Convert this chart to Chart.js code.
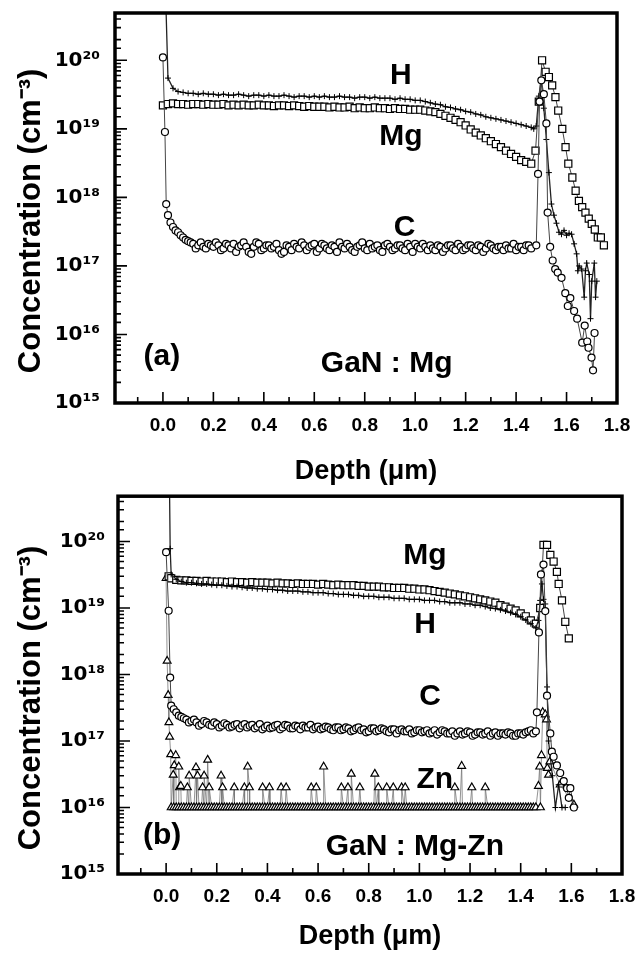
<!DOCTYPE html>
<html>
<head>
<meta charset="utf-8">
<script src="https://cdn.jsdelivr.net/npm/chart.js@4.4.1/dist/chart.umd.min.js"></script>
<style>
  html, body { margin: 0; padding: 0; background: #fff; }
  body { width: 638px; height: 958px; position: relative; overflow: hidden; }
  canvas { position: absolute; left: 0; }
  #chartA { top: 0; }
  #chartB { top: 490px; }
</style>
</head>
<body>
<canvas id="chartA" width="638" height="490"></canvas>
<canvas id="chartB" width="638" height="468"></canvas>
<script>
// depth grids (um) for the flat part of the profiles
const bulkDepth = [
  0.02, 0.04, 0.06, 0.08, 0.10, 0.12, 0.14, 0.16, 0.18, 0.20,
  0.22, 0.24, 0.26, 0.28, 0.30, 0.32, 0.34, 0.36, 0.38, 0.40,
  0.42, 0.44, 0.46, 0.48, 0.50, 0.52, 0.54, 0.56, 0.58, 0.60,
  0.62, 0.64, 0.66, 0.68, 0.70, 0.72, 0.74, 0.76, 0.78, 0.80,
  0.82, 0.84, 0.86, 0.88, 0.90, 0.92, 0.94, 0.96, 0.98, 1.00,
  1.02, 1.04, 1.06, 1.08, 1.10, 1.12, 1.14, 1.16, 1.18, 1.20,
  1.22, 1.24, 1.26, 1.28, 1.30, 1.32, 1.34, 1.36, 1.38, 1.40,
  1.42, 1.44, 1.46
];
// in-between depths, used by the denser C and Zn records
const bulkDepthOdd = [
  0.03, 0.05, 0.07, 0.09, 0.11, 0.13, 0.15, 0.17, 0.19, 0.21,
  0.23, 0.25, 0.27, 0.29, 0.31, 0.33, 0.35, 0.37, 0.39, 0.41,
  0.43, 0.45, 0.47, 0.49, 0.51, 0.53, 0.55, 0.57, 0.59, 0.61,
  0.63, 0.65, 0.67, 0.69, 0.71, 0.73, 0.75, 0.77, 0.79, 0.81,
  0.83, 0.85, 0.87, 0.89, 0.91, 0.93, 0.95, 0.97, 0.99, 1.01,
  1.03, 1.05, 1.07, 1.09, 1.11, 1.13, 1.15, 1.17, 1.19, 1.21,
  1.23, 1.25, 1.27, 1.29, 1.31, 1.33, 1.35, 1.37, 1.39, 1.41,
  1.43, 1.45
];

// ---- (a) GaN : Mg ----
const hHeadDepthA = [0.008];
const hHeadA = [2e21];
const hBulkA = [
  5.5e19, 3.9e19, 3.5e19, 3.4e19, 3.3e19, 3.3e19, 3.2e19, 3.3e19, 3.2e19, 3.2e19,
  3.1e19, 3.2e19, 3.1e19, 3.1e19, 3.2e19, 3.1e19, 3.0e19, 3.1e19, 3.1e19, 3.0e19,
  3.1e19, 3.0e19, 3.0e19, 3.1e19, 3.0e19, 2.9e19, 3.0e19, 3.0e19, 2.9e19, 3.0e19,
  2.9e19, 3.0e19, 2.9e19, 2.9e19, 3.0e19, 2.9e19, 2.9e19, 2.8e19, 2.9e19, 2.9e19,
  2.8e19, 2.9e19, 2.8e19, 2.8e19, 2.8e19, 2.7e19, 2.8e19, 2.7e19, 2.7e19, 2.6e19,
  2.6e19, 2.5e19, 2.4e19, 2.3e19, 2.25e19, 2.1e19, 2.05e19, 1.95e19, 1.9e19, 1.8e19,
  1.75e19, 1.65e19, 1.6e19, 1.5e19, 1.45e19, 1.4e19, 1.35e19, 1.3e19, 1.25e19, 1.2e19,
  1.15e19, 1.1e19, 1.05e19
];
const hTailDepthA = [1.47, 1.48, 1.49, 1.50, 1.51, 1.52, 1.53, 1.54, 1.55, 1.56,
  1.57, 1.58, 1.59, 1.60, 1.61, 1.62, 1.63, 1.64, 1.645, 1.65,
  1.66, 1.67, 1.675, 1.68, 1.69, 1.695, 1.70, 1.71, 1.715, 1.72];
const hTailA = [1.0e19, 1.1e19, 3.0e19, 5.0e19, 2.0e19, 7.0e18, 2.3e18, 8.0e17, 5.5e17, 4.2e17,
  3.1e17, 2.9e17, 3.3e17, 2.8e17, 3.0e17, 2.9e17, 2.1e17, 1.5e17, 8.5e16, 1.0e17,
  9.0e16, 3.5e16, 8.5e16, 1.1e17, 7.5e16, 1.7e16, 6.0e16, 1.1e17, 3.5e16, 6.0e16];

const mgHeadDepthA = [0.0];
const mgHeadA = [2.2e19];
const mgBulkA = [
  2.3e19, 2.35e19, 2.3e19, 2.3e19, 2.25e19, 2.3e19, 2.3e19, 2.25e19, 2.3e19, 2.25e19,
  2.25e19, 2.3e19, 2.2e19, 2.25e19, 2.2e19, 2.25e19, 2.2e19, 2.2e19, 2.25e19, 2.2e19,
  2.2e19, 2.15e19, 2.2e19, 2.2e19, 2.15e19, 2.2e19, 2.15e19, 2.1e19, 2.15e19, 2.1e19,
  2.1e19, 2.1e19, 2.05e19, 2.1e19, 2.05e19, 2.05e19, 2.1e19, 2.0e19, 2.05e19, 2.0e19,
  2.0e19, 2.05e19, 2.0e19, 2.0e19, 1.95e19, 2.0e19, 1.95e19, 1.95e19, 1.9e19, 1.9e19,
  1.9e19, 1.85e19, 1.8e19, 1.75e19, 1.65e19, 1.55e19, 1.45e19, 1.35e19, 1.25e19, 1.12e19,
  9.8e18, 8.8e18, 8.0e18, 7.3e18, 6.6e18, 6.0e18, 5.4e18, 4.8e18, 4.3e18, 3.9e18,
  3.5e18, 3.3e18, 3.1e18
];
const mgTailDepthA = [1.477, 1.490, 1.503, 1.517, 1.530, 1.543, 1.556, 1.567, 1.583, 1.596,
  1.607, 1.623, 1.636, 1.649, 1.662, 1.675, 1.688, 1.700, 1.712, 1.724, 1.736, 1.748];
const mgTailA = [4.8e18, 2.5e19, 1.0e20, 6.8e19, 5.7e19, 4.3e19, 2.9e19, 1.85e19, 1.0e19, 5.4e18,
  3.1e18, 1.95e18, 1.25e18, 8.9e17, 7.2e17, 6.0e17, 4.9e17, 4.1e17, 3.4e17, 2.6e17, 2.6e17, 2.0e17];

const cHeadDepthA = [0.000, 0.008, 0.013];
const cHeadA = [1.1e20, 9.0e18, 8.0e17];
const cBulkA = [
  5.5e17, 3.7e17, 3.1e17, 2.6e17, 2.3e17, 2.1e17, 2.0e17, 1.9e17, 2.1e17, 1.9e17,
  2.0e17, 1.8e17, 2.0e17, 2.1e17, 1.9e17, 2.2e17, 1.6e17, 1.9e17, 2.1e17, 1.8e17,
  2.0e17, 1.9e17, 1.7e17, 1.6e17, 1.9e17, 2.1e17, 1.8e17, 2.0e17, 1.9e17, 2.1e17,
  1.8e17, 2.0e17, 1.7e17, 1.9e17, 2.2e17, 1.8e17, 1.9e17, 1.6e17, 2.0e17, 1.8e17,
  2.1e17, 1.9e17, 1.7e17, 2.0e17, 1.9e17, 1.8e17, 2.0e17, 1.7e17, 1.9e17, 2.1e17,
  1.8e17, 1.9e17, 2.0e17, 1.7e17, 1.9e17, 1.8e17, 2.0e17, 1.7e17, 1.9e17, 1.8e17,
  2.0e17, 1.7e17, 1.9e17, 1.8e17, 2.0e17, 1.7e17, 1.9e17, 2.0e17, 1.8e17, 1.7e17,
  1.9e17, 2.0e17, 1.8e17
];
const cBulkOddA = [
  4.3e17, 3.3e17, 2.8e17, 2.4e17, 2.2e17, 1.8e17, 2.2e17, 1.8e17, 2.0e17, 2.2e17,
  1.7e17, 2.1e17, 1.8e17, 1.6e17, 2.0e17, 1.9e17, 1.5e17, 2.2e17, 1.7e17, 2.0e17,
  1.8e17, 2.1e17, 1.5e17, 2.0e17, 1.7e17, 1.9e17, 2.2e17, 1.7e17, 2.0e17, 1.6e17,
  2.1e17, 1.8e17, 2.0e17, 1.6e17, 1.9e17, 2.1e17, 1.7e17, 1.9e17, 2.2e17, 1.7e17,
  1.8e17, 2.0e17, 1.6e17, 2.1e17, 1.7e17, 2.0e17, 1.8e17, 2.1e17, 1.6e17, 1.9e17,
  2.1e17, 1.7e17, 1.8e17, 2.0e17, 1.6e17, 2.0e17, 1.8e17, 2.1e17, 1.7e17, 2.0e17,
  1.8e17, 2.0e17, 1.6e17, 2.1e17, 1.8e17, 1.9e17, 1.7e17, 1.8e17, 2.1e17, 1.9e17,
  1.7e17, 2.0e17
];
const cTailDepthA = [1.480, 1.487, 1.493, 1.500, 1.510, 1.520, 1.525, 1.535, 1.545, 1.555,
  1.565, 1.580, 1.595, 1.605, 1.615, 1.630, 1.642, 1.662, 1.672, 1.682,
  1.687, 1.699, 1.705, 1.711];
const cTailA = [2.0e17, 2.2e18, 2.5e19, 5.1e19, 3.2e19, 1.2e19, 6.0e17, 1.9e17, 1.2e17, 9.0e16,
  8.0e16, 6.7e16, 4.0e16, 2.6e16, 3.4e16, 2.2e16, 1.7e16, 7.6e15, 1.35e16, 7.9e15,
  6.4e15, 4.6e15, 3.0e15, 1.05e16];

// ---- (b) GaN : Mg-Zn ----
const hHeadDepthB = [0.012, 0.016];
const hHeadB = [2e21, 7.8e19];
const hBulkB = [
  3.2e19, 2.7e19, 2.5e19, 2.4e19, 2.4e19, 2.35e19, 2.3e19, 2.3e19, 2.25e19, 2.2e19,
  2.2e19, 2.15e19, 2.1e19, 2.1e19, 2.05e19, 2.0e19, 2.0e19, 1.95e19, 1.95e19, 1.9e19,
  1.9e19, 1.85e19, 1.85e19, 1.8e19, 1.8e19, 1.8e19, 1.75e19, 1.75e19, 1.7e19, 1.7e19,
  1.7e19, 1.65e19, 1.65e19, 1.6e19, 1.6e19, 1.6e19, 1.55e19, 1.55e19, 1.5e19, 1.5e19,
  1.5e19, 1.45e19, 1.45e19, 1.45e19, 1.4e19, 1.4e19, 1.4e19, 1.35e19, 1.35e19, 1.35e19,
  1.3e19, 1.3e19, 1.3e19, 1.25e19, 1.25e19, 1.2e19, 1.2e19, 1.2e19, 1.15e19, 1.15e19,
  1.1e19, 1.1e19, 1.05e19, 1.0e19, 9.8e18, 9.4e18, 9.0e18, 8.5e18, 8.0e18, 7.4e18,
  6.6e18, 5.8e18, 5.0e18
];
const hTailDepthB = [1.470, 1.477, 1.484, 1.490, 1.497, 1.504, 1.510, 1.525, 1.537, 1.550, 1.563, 1.576];
const hTailB = [6.5e18, 1.3e19, 2.3e19, 1.35e19, 1.15e19, 6.5e17, 1.0e17, 3.0e16, 1.0e16, 2.2e16, 1.0e16, 1.0e16];

const mgHeadDepthB = [0.010];
const mgHeadB = [3.0e19];
const mgBulkB = [
  2.8e19, 2.65e19, 2.6e19, 2.6e19, 2.55e19, 2.55e19, 2.5e19, 2.55e19, 2.5e19, 2.5e19,
  2.5e19, 2.45e19, 2.5e19, 2.45e19, 2.45e19, 2.4e19, 2.45e19, 2.4e19, 2.4e19, 2.4e19,
  2.35e19, 2.4e19, 2.35e19, 2.35e19, 2.3e19, 2.35e19, 2.3e19, 2.3e19, 2.3e19, 2.25e19,
  2.3e19, 2.25e19, 2.2e19, 2.25e19, 2.2e19, 2.2e19, 2.2e19, 2.15e19, 2.15e19, 2.1e19,
  2.1e19, 2.1e19, 2.05e19, 2.05e19, 2.0e19, 2.0e19, 2.0e19, 1.95e19, 1.95e19, 1.9e19,
  1.9e19, 1.85e19, 1.8e19, 1.75e19, 1.7e19, 1.65e19, 1.6e19, 1.55e19, 1.5e19, 1.45e19,
  1.4e19, 1.35e19, 1.3e19, 1.25e19, 1.2e19, 1.1e19, 1.05e19, 9.8e18, 9.2e18, 8.3e18,
  7.5e18, 6.5e18, 5.8e18
];
const mgTailDepthB = [1.477, 1.490, 1.504, 1.517, 1.530, 1.543, 1.550, 1.563, 1.576, 1.590];
const mgTailB = [1.0e19, 8.9e19, 8.9e19, 6.3e19, 5.0e19, 3.5e19, 2.3e19, 1.3e19, 6.2e18, 3.5e18];

const cHeadDepthB = [0.000, 0.010, 0.016];
const cHeadB = [6.9e19, 9.1e18, 9.0e17];
const cBulkB = [
  3.4e17, 2.7e17, 2.3e17, 2.1e17, 2.0e17, 1.9e17, 1.8e17, 1.9e17, 1.7e17, 1.8e17,
  1.7e17, 1.75e17, 1.65e17, 1.8e17, 1.7e17, 1.6e17, 1.75e17, 1.65e17, 1.5e17, 1.7e17,
  1.6e17, 1.75e17, 1.6e17, 1.7e17, 1.55e17, 1.65e17, 1.7e17, 1.6e17, 1.5e17, 1.65e17,
  1.55e17, 1.6e17, 1.45e17, 1.6e17, 1.5e17, 1.55e17, 1.45e17, 1.6e17, 1.5e17, 1.4e17,
  1.55e17, 1.45e17, 1.5e17, 1.35e17, 1.5e17, 1.45e17, 1.4e17, 1.5e17, 1.35e17, 1.45e17,
  1.4e17, 1.3e17, 1.45e17, 1.35e17, 1.4e17, 1.3e17, 1.2e17, 1.4e17, 1.3e17, 1.35e17,
  1.25e17, 1.35e17, 1.3e17, 1.2e17, 1.35e17, 1.3e17, 1.25e17, 1.3e17, 1.2e17, 1.3e17,
  1.35e17, 1.45e17, 1.4e17
];
const cBulkOddB = [
  3.0e17, 2.4e17, 2.2e17, 1.9e17, 2.1e17, 1.7e17, 2.0e17, 1.75e17, 1.9e17, 1.6e17,
  1.85e17, 1.6e17, 1.75e17, 1.55e17, 1.8e17, 1.7e17, 1.55e17, 1.8e17, 1.6e17, 1.55e17,
  1.7e17, 1.5e17, 1.75e17, 1.55e17, 1.7e17, 1.5e17, 1.6e17, 1.75e17, 1.6e17, 1.5e17,
  1.65e17, 1.5e17, 1.6e17, 1.45e17, 1.6e17, 1.4e17, 1.55e17, 1.45e17, 1.35e17, 1.55e17,
  1.4e17, 1.55e17, 1.4e17, 1.5e17, 1.3e17, 1.5e17, 1.4e17, 1.3e17, 1.45e17, 1.35e17,
  1.45e17, 1.35e17, 1.25e17, 1.45e17, 1.3e17, 1.4e17, 1.3e17, 1.25e17, 1.4e17, 1.2e17,
  1.35e17, 1.25e17, 1.4e17, 1.3e17, 1.2e17, 1.3e17, 1.35e17, 1.2e17, 1.3e17, 1.25e17,
  1.4e17, 1.3e17
];
const cTailDepthB = [1.464, 1.472, 1.480, 1.490, 1.497, 1.504, 1.517, 1.523, 1.530, 1.543,
  1.556, 1.570, 1.583, 1.590, 1.596, 1.610];
const cTailB = [2.7e17, 4.3e18, 3.2e19, 4.5e19, 9.0e18, 4.8e17, 1.3e17, 6.9e16, 5.8e16, 4.3e16,
  3.3e16, 2.5e16, 1.95e16, 1.4e16, 1.95e16, 1.0e16];

// Zn sits at the 1e16 detection floor, with scattered counts above it
const znBulkB = [
  1e16, 1e16, 1e16, 1e16, 1e16, 1e16, 1e16, 1e16, 1e16, 1e16,
  1e16, 1e16, 1e16, 1e16, 1e16, 1e16, 1e16, 1e16, 1e16, 1e16,
  1e16, 1e16, 1e16, 1e16, 1e16, 1e16, 1e16, 1e16, 1e16, 1e16,
  1e16, 1e16, 1e16, 1e16, 1e16, 1e16, 1e16, 1e16, 1e16, 1e16,
  1e16, 1e16, 1e16, 1e16, 1e16, 1e16, 1e16, 1e16, 1e16, 1e16,
  1e16, 1e16, 1e16, 1e16, 1e16, 1e16, 1e16, 1e16, 1e16, 1e16,
  1e16, 1e16, 1e16, 1e16, 1e16, 1e16, 1e16, 1e16, 1e16, 1e16,
  1e16, 1e16, 1e16
];
const znBulkOddB = [
  1e16, 1e16, 1e16, 1e16, 1e16, 1e16, 1e16, 1e16, 1e16, 1e16,
  1e16, 1e16, 1e16, 1e16, 1e16, 1e16, 1e16, 1e16, 1e16, 1e16,
  1e16, 1e16, 1e16, 1e16, 1e16, 1e16, 1e16, 1e16, 1e16, 1e16,
  1e16, 1e16, 1e16, 1e16, 1e16, 1e16, 1e16, 1e16, 1e16, 1e16,
  1e16, 1e16, 1e16, 1e16, 1e16, 1e16, 1e16, 1e16, 1e16, 1e16,
  1e16, 1e16, 1e16, 1e16, 1e16, 1e16, 1e16, 1e16, 1e16, 1e16,
  1e16, 1e16, 1e16, 1e16, 1e16, 1e16, 1e16, 1e16, 1e16, 1e16,
  1e16, 1e16
];
const znExtraDepthB = [
  0.000, 0.004, 0.008, 0.011, 0.014, 0.018, 0.028, 0.032, 0.038, 0.050,
  0.053, 0.058, 0.084, 0.091, 0.118, 0.124, 0.144, 0.150, 0.164, 0.170,
  0.217, 0.223, 0.269, 0.309, 0.322, 0.329, 0.381, 0.408, 0.454, 0.474,
  0.573, 0.593, 0.622, 0.692, 0.718, 0.731, 0.765, 0.824, 0.838, 0.871,
  0.897, 0.930, 0.944, 1.140, 1.167, 1.207, 1.260, 1.470, 1.475, 1.478,
  1.482, 1.487, 1.497, 1.502, 1.505, 1.510, 1.515, 1.556, 1.610
];
const znExtraB = [
  2.8e19, 1.6e18, 4.9e17, 1.9e17, 1.15e17, 6.3e16, 3.1e16, 4.3e16, 6.1e16, 4.1e16,
  2.0e16, 2.1e16, 2.0e16, 3.0e16, 4.0e16, 3.0e16, 2.0e16, 3.0e16, 5.2e16, 2.0e16,
  3.0e16, 2.0e16, 2.0e16, 2.0e16, 4.1e16, 2.0e16, 2.0e16, 2.0e16, 2.0e16, 2.0e16,
  2.0e16, 2.0e16, 4.1e16, 2.0e16, 2.0e16, 3.2e16, 2.0e16, 3.2e16, 2.0e16, 2.0e16,
  2.0e16, 2.0e16, 2.0e16, 2.0e16, 4.2e16, 2.0e16, 2.0e16, 2.1e16, 4.1e16, 1.0e16,
  6.1e16, 2.7e17, 2.5e17, 2.1e17, 3.9e16, 3.1e16, 4.9e16, 2.2e16, 1.1e16
];

// axis ticks
const xTicks = [-0.1, 0.0, 0.1, 0.2, 0.3, 0.4, 0.5, 0.6, 0.7, 0.8, 0.9, 1.0, 1.1, 1.2, 1.3, 1.4, 1.5, 1.6, 1.7, 1.8];
const xLabels = [0.0, 0.2, 0.4, 0.6, 0.8, 1.0, 1.2, 1.4, 1.6, 1.8];

// in-plot labels (depth, concentration)
const labelsA = [
  { text: 'H', x: 0.943, y: 5.9e19 },
  { text: 'Mg', x: 0.943, y: 7.8e18 },
  { text: 'C', x: 0.958, y: 3.6e17 },
  { text: 'GaN : Mg', x: 0.887, y: 3.8e15 },
  { text: '(a)', x: -0.004, y: 4.7e15 }
];
const labelsB = [
  { text: 'Mg', x: 1.022, y: 6.2e19 },
  { text: 'H', x: 1.022, y: 5.6e18 },
  { text: 'C', x: 1.042, y: 4.6e17 },
  { text: 'Zn', x: 1.061, y: 2.6e16 },
  { text: 'GaN : Mg-Zn', x: 0.982, y: 2.6e15 },
  { text: '(b)', x: -0.016, y: 3.8e15 }
];

const FONT = "'Liberation Sans', Arial, Helvetica, sans-serif";
Chart.defaults.font.family = FONT;
Chart.defaults.color = '#000';

const supDigits = { '0': '⁰', '1': '¹', '2': '²', '3': '³', '4': '⁴', '5': '⁵', '6': '⁶', '7': '⁷', '8': '⁸', '9': '⁹' };
const toSup = n => String(n).split('').map(c => supDigits[c]).join('');
const isDecade = v => { const lg = Math.log10(v); return Math.abs(lg - Math.round(lg)) < 1e-9; };

function profile(depths, values) {
  return depths.map((d, i) => ({ x: d, y: values[i] }));
}
const byDepth = (p, q) => p.x - q.x;

const styles = {
  H: { pointStyle: 'cross', pointRadius: 3, borderWidth: 1.3, borderColor: '#222', pointBorderWidth: 1 },
  Mg: { pointStyle: 'rect', pointRadius: 5, borderWidth: 1, borderColor: '#444' },
  C: { pointStyle: 'circle', pointRadius: 3.5, borderWidth: 1, borderColor: '#444' },
  Zn: { pointStyle: 'triangle', pointRadius: 4.5, borderWidth: 0.8, borderColor: '#777' }
};

function dataset(label, points, style) {
  return Object.assign({
    label, data: points, showLine: true, fill: false, tension: 0,
    pointBackgroundColor: '#fff', pointBorderColor: '#000', pointBorderWidth: 1.2
  }, style);
}

// thick frame, inward ticks and the in-plot labels
const framePlugin = {
  id: 'frame',
  afterDatasetsDraw(chart, args, opts) {
    const { ctx, chartArea: a, scales: { x, y } } = chart;
    ctx.save();
    ctx.strokeStyle = '#000';
    ctx.lineWidth = 1.6;
    ctx.beginPath();
    y.ticks.forEach(t => {
      const p = y.getPixelForValue(t.value);
      if (p < a.top || p > a.bottom) return;
      const len = isDecade(t.value) ? 12 : 6;
      ctx.moveTo(a.left, p);
      ctx.lineTo(a.left + len, p);
    });
    x.ticks.forEach(t => {
      const p = x.getPixelForValue(t.value);
      const len = t.label ? 11 : 6;
      ctx.moveTo(p, a.bottom);
      ctx.lineTo(p, a.bottom - len);
    });
    ctx.stroke();
    ctx.lineWidth = 3.5;
    ctx.strokeRect(a.left, a.top, a.right - a.left, a.bottom - a.top);
    ctx.fillStyle = '#000';
    ctx.font = 'bold 30px ' + FONT;
    ctx.textAlign = 'center';
    ctx.textBaseline = 'middle';
    (opts.labels || []).forEach(l => {
      ctx.fillText(l.text, x.getPixelForValue(l.x), y.getPixelForValue(l.y));
    });
    ctx.restore();
  }
};

function makeChart(id, datasets, labels, box) {
  return new Chart(document.getElementById(id), {
    type: 'line',
    data: { datasets },
    options: {
      responsive: false,
      animation: false,
      devicePixelRatio: 1,
      layout: { padding: { top: box.top, right: box.right, left: 0, bottom: 0 } },
      plugins: {
        legend: { display: false },
        tooltip: { enabled: false },
        frame: { labels }
      },
      scales: {
        x: {
          type: 'linear', min: -0.19, max: 1.8,
          grid: { display: false, drawTicks: false }, border: { display: false },
          afterBuildTicks: s => { s.ticks = xTicks.map(v => ({ value: v })); },
          afterFit: s => { s.height = box.xHeight; s.paddingLeft = 0; s.paddingRight = 0; },
          ticks: {
            autoSkip: false, maxRotation: 0, padding: 11,
            font: { size: 19, weight: 'bold' },
            callback: v => xLabels.some(l => Math.abs(l - v) < 1e-9) ? v.toFixed(1) : ''
          },
          title: {
            display: true, text: 'Depth (μm)',
            font: { size: 27, weight: 'bold' },
            padding: { top: 0, bottom: box.titleGap }
          }
        },
        y: {
          type: 'logarithmic', min: 1e15, max: box.yMax,
          grid: { display: false, drawTicks: false }, border: { display: false },
          afterFit: s => { s.width = box.yWidth; s.paddingTop = 0; s.paddingBottom = 0; },
          ticks: {
            autoSkip: false, padding: box.yPad,
            font: { family: "'DejaVu Sans', sans-serif", size: 20, weight: 'bold' },
            callback: v => isDecade(v) ? '10' + toSup(Math.round(Math.log10(v))) : ''
          },
          title: {
            display: true, text: 'Concentration (cm⁻³)   ',
            font: { size: 31, weight: 'bold' },
            padding: { top: 13, bottom: 0 }
          }
        }
      }
    },
    plugins: [framePlugin]
  });
}

const datasetsA = [
  dataset('C', profile(cHeadDepthA, cHeadA).concat(profile(bulkDepth, cBulkA), profile(bulkDepthOdd, cBulkOddA), profile(cTailDepthA, cTailA)).sort(byDepth), styles.C),
  dataset('Mg', profile(mgHeadDepthA, mgHeadA).concat(profile(bulkDepth, mgBulkA), profile(mgTailDepthA, mgTailA)), styles.Mg),
  dataset('H', profile(hHeadDepthA, hHeadA).concat(profile(bulkDepth, hBulkA), profile(hTailDepthA, hTailA)), styles.H)
];

const datasetsB = [
  dataset('C', profile(cHeadDepthB, cHeadB).concat(profile(bulkDepth, cBulkB), profile(bulkDepthOdd, cBulkOddB), profile(cTailDepthB, cTailB)).sort(byDepth), styles.C),
  dataset('H', profile(hHeadDepthB, hHeadB).concat(profile(bulkDepth, hBulkB), profile(hTailDepthB, hTailB)), styles.H),
  dataset('Mg', profile(mgHeadDepthB, mgHeadB).concat(profile(bulkDepth, mgBulkB), profile(mgTailDepthB, mgTailB)), styles.Mg),
  dataset('Zn', profile(bulkDepth, znBulkB).concat(profile(bulkDepthOdd, znBulkOddB), profile(znExtraDepthB, znExtraB)).sort(byDepth), styles.Zn)
];

makeChart('chartA', datasetsA, labelsA,
  { top: 13, right: 21, yWidth: 115, xHeight: 87, yMax: 4.9e20, yPad: 15, titleGap: 2 });
makeChart('chartB', datasetsB, labelsB,
  { top: 1, right: 16, yWidth: 118, xHeight: 84, yMax: 4.8e20, yPad: 13, titleGap: 5 });
</script>
</body>
</html>
